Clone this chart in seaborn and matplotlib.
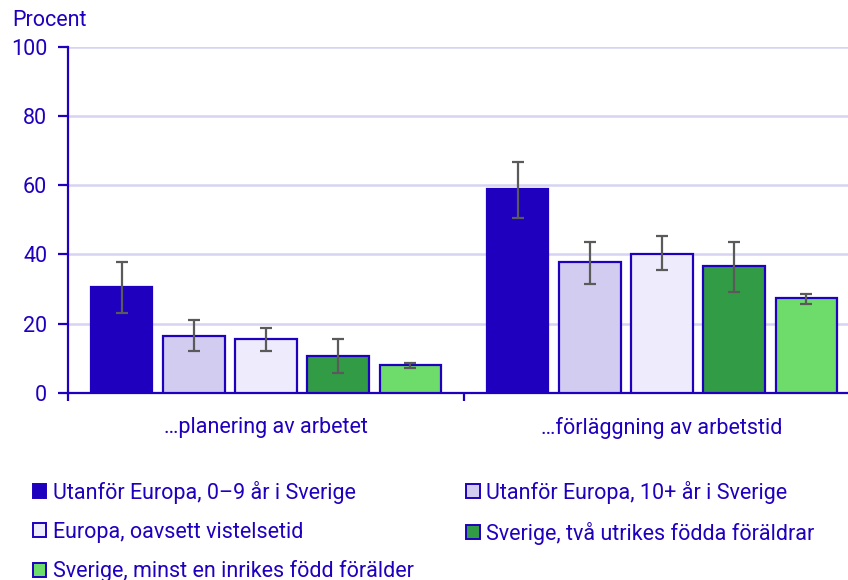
import matplotlib
matplotlib.use("Agg")
import matplotlib.pyplot as plt
import seaborn as sns
import pandas as pd
from matplotlib.patches import Patch

# ---- data ----
categories = ["…planering av arbetet", "…förläggning av arbetstid"]
groups = [
    "Utanför Europa, 0–9 år i Sverige",
    "Utanför Europa, 10+ år i Sverige",
    "Europa, oavsett vistelsetid",
    "Sverige, två utrikes födda föräldrar",
    "Sverige, minst en inrikes född förälder",
]
values_planering = [30.5, 16.5, 15.5, 10.8, 8.0]
values_forlaggning = [58.8, 37.8, 40.1, 36.6, 27.5]
lower_planering = [23.0, 12.1, 12.1, 5.8, 7.3]
upper_planering = [37.9, 21.2, 18.9, 15.5, 8.7]
lower_forlaggning = [50.5, 31.5, 35.6, 29.2, 25.8]
upper_forlaggning = [66.6, 43.6, 45.3, 43.6, 28.6]
y_ticks = [0, 20, 40, 60, 80, 100]
y_label = "Procent"

# ---- style ----
BLUE = "#1E00BE"
colors = ["#1E00BE", "#D2CDF0", "#EDEBFC", "#329B46", "#6EDC6B"]
GRID = "#D6D4F2"
ERR = "#5A5A5A"

sns.set_theme(style="white")
plt.rcParams["font.family"] = ["Roboto", "DejaVu Sans"]

rows = []
vals = [values_planering, values_forlaggning]
los = [lower_planering, lower_forlaggning]
his = [upper_planering, upper_forlaggning]
for ci, cat in enumerate(categories):
    for gi, g in enumerate(groups):
        rows.append({"kategori": cat, "grupp": g, "procent": vals[ci][gi],
                     "lo": los[ci][gi], "hi": his[ci][gi]})
df = pd.DataFrame(rows)

W, H = 848, 580
fig = plt.figure(figsize=(W / 100, H / 100), dpi=100)
ax = fig.add_axes([68 / W, 1 - 393 / H, 792 / W, 346.3 / H])

sns.barplot(data=df, x="kategori", y="procent", hue="grupp", order=categories,
            hue_order=groups, palette=colors, saturation=1, width=0.91, gap=0.15,
            edgecolor=BLUE, linewidth=1.6, ax=ax, legend=False, zorder=3)

# error bars
bar_containers = list(ax.containers)
for gi, cont in enumerate(bar_containers):
    for ci, bar in enumerate(cont):
        sub = df[(df.grupp == groups[gi]) & (df.kategori == categories[ci])].iloc[0]
        xc = bar.get_x() + bar.get_width() / 2
        v = sub.procent
        ax.errorbar([xc], [v], yerr=[[v - sub.lo], [sub.hi - v]], fmt="none",
                    ecolor=ERR, elinewidth=1.6, capsize=4.4, capthick=1.6, zorder=4)

FS = 15.5
ax.set_ylim(0, 100)
ax.set_xlim(-0.5, 1.5)
ax.set_yticks(y_ticks)
ax.set_yticklabels([str(t) for t in y_ticks])
ax.yaxis.grid(True, color=GRID, linewidth=1.8, zorder=0)
ax.set_axisbelow(True)
for s in ["top", "right"]:
    ax.spines[s].set_visible(False)
for s in ["left", "bottom"]:
    ax.spines[s].set_color(BLUE)
    ax.spines[s].set_linewidth(1.6)
ax.tick_params(axis="y", which="major", left=True, length=7, width=1.6, color=BLUE,
               labelcolor=BLUE, labelsize=FS, pad=8)
ax.tick_params(axis="x", which="major", bottom=False, labelcolor=BLUE, labelsize=FS, pad=11)
ax.set_xticks([-0.5, 0.5, 1.5], minor=True)
ax.tick_params(axis="x", which="minor", bottom=True, length=6, width=1.6, color=BLUE)
ax.set_xlabel("")
ax.set_ylabel("")

fig.text(12 / W, 1 - 20 / H, y_label, color=BLUE, fontsize=FS, va="center", ha="left")

handles = [Patch(facecolor=c, edgecolor=BLUE, linewidth=1.4) for c in colors]
order = [0, 2, 4, 1, 3]
leg = fig.legend([handles[i] for i in order], [groups[i] for i in order],
                 loc="upper left", bbox_to_anchor=(33 / W, 1 - 481 / H), ncol=2,
                 frameon=False, fontsize=15.5, handlelength=0.62, handleheight=0.62,
                 handletextpad=0.3, labelspacing=0.82, columnspacing=2.45,
                 borderpad=0, borderaxespad=0)
for t in leg.get_texts():
    t.set_color(BLUE)

fig.savefig("out.png", dpi=100)
